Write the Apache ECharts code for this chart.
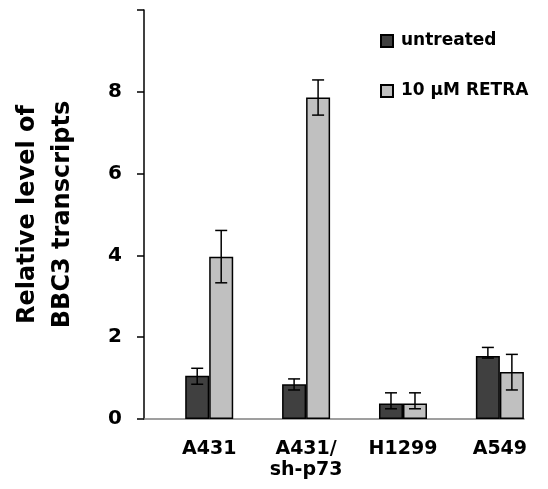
<!DOCTYPE html>
<html><head><meta charset="utf-8">
<script src="https://cdn.jsdelivr.net/npm/echarts@6/dist/echarts.min.js"></script>
<style>html,body{margin:0;padding:0;background:#fff}#c{width:548px;height:489px}</style>
</head><body><div id="c"></div>
<script>
// ---- data ----
var categories = ['A431', 'A431/\nsh-p73', 'H1299', 'A549'];
var seriesNames = ['untreated', '10 μM RETRA'];
var untreated = [1.06, 0.85, 0.38, 1.54];
var untreatedLow = [0.85, 0.71, 0.25, 1.49];
var untreatedHigh = [1.24, 0.98, 0.64, 1.75];
var retra = [3.97, 7.86, 0.38, 1.15];
var retraLow = [3.33, 7.43, 0.25, 0.71];
var retraHigh = [4.61, 8.29, 0.64, 1.58];
var yTicks = [0, 2, 4, 6, 8];

var FONT = 'DejaVu Sans';
var BAR_W = 24;
var chart = echarts.init(document.getElementById('c'));

function barData(vals) { return vals.map(function (v, i) { return [i, v]; }); }
function errData(lo, hi) { return lo.map(function (l, i) { return [i, l, hi[i]]; }); }
function errSeries(lo, hi, shift) {
  return {
    type: 'custom', data: errData(lo, hi), z: 10, silent: true,
    renderItem: function (params, api) {
      var p1 = api.coord([api.value(0), api.value(1)]);
      var p2 = api.coord([api.value(0), api.value(2)]);
      var x = p1[0] + shift, c = 6;
      var st = { stroke: '#000', lineWidth: 1.5 };
      return { type: 'group', children: [
        { type: 'line', shape: { x1: x, y1: p1[1], x2: x, y2: p2[1] }, style: st },
        { type: 'line', shape: { x1: x - c, y1: p1[1], x2: x + c, y2: p1[1] }, style: st },
        { type: 'line', shape: { x1: x - c, y1: p2[1], x2: x + c, y2: p2[1] }, style: st }
      ]};
    }
  };
}

chart.setOption({
  animation: false,
  grid: { left: 144, right: 24, top: 10, bottom: 70 },
  legend: {
    orient: 'vertical', left: 380, top: 31, padding: 0, icon: 'rect',
    itemWidth: 12, itemHeight: 12, itemGap: 30,
    data: seriesNames,
    textStyle: { fontFamily: FONT, fontWeight: 'bold', fontSize: 17, color: '#000', lineHeight: 20, padding: [0, 0, 0, 3] }
  },
  xAxis: {
    type: 'value', min: -0.673, max: 3.249,
    axisLine: { show: true, onZero: false, lineStyle: { color: '#808080', width: 1.5 } },
    axisTick: { show: false }, splitLine: { show: false },
    axisLabel: {
      customValues: [0, 1, 2, 3], margin: 20,
      formatter: function (v) { return categories[Math.round(v)] || ''; },
      fontFamily: FONT, fontWeight: 'bold', fontSize: 19, color: '#000', lineHeight: 21
    }
  },
  yAxis: {
    type: 'value', min: 0, max: 10, interval: 2,
    name: 'Relative level of\nBBC3 transcripts', nameLocation: 'middle', nameGap: 64,
    nameTextStyle: { fontFamily: FONT, fontWeight: 'bold', fontSize: 24, color: '#000', lineHeight: 35 },
    axisLine: { show: true, onZero: false, lineStyle: { color: '#000', width: 1.5 } },
    axisTick: { show: true, length: 7, lineStyle: { color: '#000', width: 1.5 } },
    splitLine: { show: false },
    axisLabel: {
      margin: 22, fontFamily: FONT, fontWeight: 'bold', fontSize: 20, color: '#000',
      formatter: function (v) { return yTicks.indexOf(v) >= 0 ? String(v) : ''; }
    }
  },
  series: [
    { name: seriesNames[0], type: 'bar', data: barData(untreated), barWidth: BAR_W, barGap: '0%',
      itemStyle: { color: '#404040', borderColor: '#000', borderWidth: 1.5 } },
    { name: seriesNames[1], type: 'bar', data: barData(retra), barWidth: BAR_W, barGap: '0%',
      itemStyle: { color: '#c0c0c0', borderColor: '#000', borderWidth: 1.5 } },
    errSeries(untreatedLow, untreatedHigh, -BAR_W / 2),
    errSeries(retraLow, retraHigh, BAR_W / 2)
  ]
});
</script></body></html>
